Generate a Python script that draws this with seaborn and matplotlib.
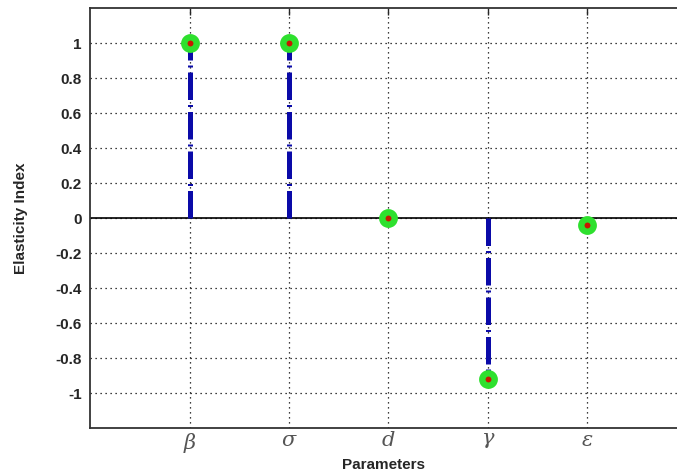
import numpy as np
import pandas as pd
import matplotlib
matplotlib.use("Agg")
import matplotlib.pyplot as plt
import seaborn as sns

# data
params = [r"$\beta$", r"$\sigma$", r"$d$", r"$\gamma$", r"$\varepsilon$"]
positions = [1, 2, 3, 4, 5]
elasticity = [1.0, 1.0, 0.0, -0.92, -0.04]
yticks = [-1, -0.8, -0.6, -0.4, -0.2, 0, 0.2, 0.4, 0.6, 0.8, 1]
ytick_labels = ["-1", "-0.8", "-0.6", "-0.4", "-0.2", "0", "0.2", "0.4", "0.6", "0.8", "1"]

df = pd.DataFrame({"pos": positions, "value": elasticity})

sns.set_style("white")
plt.rcParams["font.family"] = ["Liberation Sans", "DejaVu Sans"]
plt.rcParams["mathtext.fontset"] = "dejavuserif"

fig = plt.figure(figsize=(6.77, 4.72), dpi=100)
ax = fig.add_axes([0.133, 0.093, 0.867, 0.890])

# grid behind everything
ax.grid(True, linestyle=(0, (1, 3)), color="black", linewidth=0.9)
ax.set_axisbelow(True)

# baseline
ax.axhline(0, color="black", linewidth=1.2, zorder=2)

# stems
ax.vlines(df["pos"], 0, df["value"], colors="#0a0aa8", linewidth=3.6,
          linestyles=[(0, (5.5, 1.0, 0.4, 1.0))], zorder=3)

# markers
sns.scatterplot(data=df, x="pos", y="value", ax=ax, s=80, color="#c81800",
                edgecolor="#2ee02e", linewidth=4.6, zorder=4, legend=False)

ax.set_xlim(0, 5.9)
ax.set_ylim(-1.2, 1.2)
ax.set_xticks(positions)
ax.set_xticklabels(params, fontsize=15, color="#555555")
ax.set_yticks(yticks)
ax.set_yticklabels(ytick_labels, fontsize=11, fontweight="bold")
ax.tick_params(direction="in", length=5, top=True, right=False, width=1.0, pad=6)
ax.tick_params(axis="x", pad=2)

for side in ["left", "bottom", "top"]:
    ax.spines[side].set_color("#333333")
    ax.spines[side].set_linewidth(1.3)
ax.spines["right"].set_visible(False)

ax.set_xlabel("Parameters", fontsize=11, fontweight="bold", labelpad=2)
ax.set_ylabel("Elasticity Index", fontsize=11, fontweight="bold", labelpad=20)

fig.savefig("out.png", dpi=100)
